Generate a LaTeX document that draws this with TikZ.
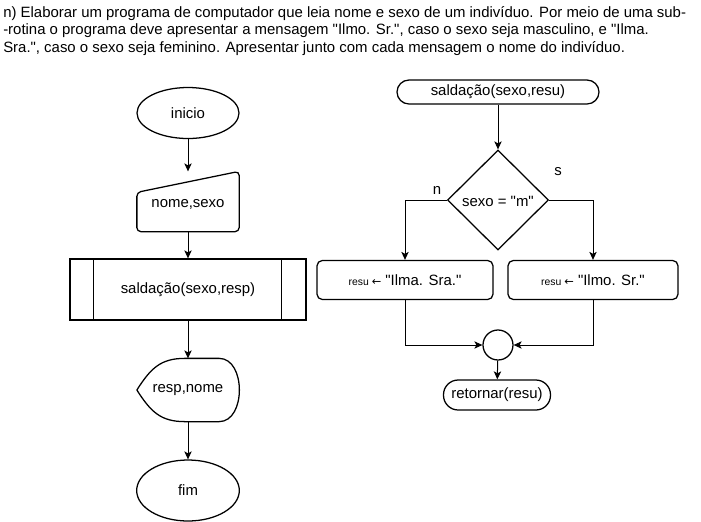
\documentclass[tikz,border=0pt]{standalone}
\usepackage{fontspec}
\setmainfont[Ligatures=TeXOff]{Liberation Sans}
\newfontfamily\symfont{DejaVu Sans}
\usetikzlibrary{calc}
\usetikzlibrary{arrows.meta}
\usetikzlibrary{shapes.geometric}
\tikzstyle{fbox}=[line width=0.95pt,font=\fontsize{11.2}{13}\selectfont,inner sep=0pt]
\tikzstyle{flow}=[line width=0.75pt,-{Stealth[length=6pt,width=5.5pt,inset=1.5pt]}]
\tikzstyle{stepbox}=[fbox,draw,rectangle,rounded corners=4pt,minimum height=29.25pt]
\newcommand{\atrib}[1]{{\fontsize{7.8}{8}\selectfont resu {\symfont\fontsize{8.5}{8}\selectfont ←}} "#1"}

\begin{document}
\begin{tikzpicture}[x=0.75pt,y=-0.75pt]
  \useasboundingbox (0,0) rectangle (701,522);
  % enunciado
  \node[anchor=north west,align=left,inner sep=0pt,font=\fontsize{11.2}{13.1}\selectfont] (txt) at (3,6)
    {n) Elaborar um programa de computador que leia nome e sexo de um indivíduo. Por meio de uma sub-\\
     -rotina o programa deve apresentar a mensagem "Ilmo. Sr.", caso o sexo seja masculino, e "Ilma.\\
     Sra.", caso o sexo seja feminino. Apresentar junto com cada mensagem o nome do indivíduo.};
  % programa principal
  \node[fbox,draw,ellipse,minimum width=76.5pt,minimum height=38.25pt] (ini) at (188,113) {inicio};
  \node[fbox,minimum width=75.75pt,minimum height=44.25pt] (ns) at (188,201.5) {};
  \draw[fbox,rounded corners=3pt] (ns.south west) -- ($(ns.north west)+(0,21)$) -- (ns.north east)
    -- (ns.south east) -- cycle;
  \node[fbox] at (188,204) {nome,sexo};
  \node[fbox,draw,rectangle,minimum width=177pt,minimum height=45.75pt] (sp) at (188,289.5) {saldação(sexo,resp)};
  \draw[fbox] ($(sp.north west)+(24,0)$) -- ($(sp.south west)+(24,0)$);
  \draw[fbox] ($(sp.north east)+(-25,0)$) -- ($(sp.south east)+(-25,0)$);
  \node[fbox,minimum width=75.75pt,minimum height=46.5pt] (rn) at (188,390) {resp,nome};
  \draw[fbox] (rn.west) .. controls +(14,-22) and +(-24,0) .. ($(rn.north west)+(48,0)$)
    -- ($(rn.north east)+(-20,0)$) .. controls +(27,0) and +(27,0) .. ($(rn.south east)+(-20,0)$)
    -- ($(rn.south west)+(48,0)$) .. controls +(-24,0) and +(14,22) .. (rn.west);
  \node[fbox,draw,ellipse,minimum width=77pt,minimum height=45.75pt] (fim) at (188,490.5) {fim};
  \draw[flow] (ini) -- (ns.north);
  \draw[flow] (ns) -- (sp);
  \draw[flow] (sp) -- (rn.north);
  \draw[flow] (rn.south) -- (fim);
  % sub-rotina
  \node[fbox,draw,rectangle,rounded corners=9pt,minimum width=151.5pt,minimum height=18pt] (sr) at (498,92) {saldação(sexo,resu)};
  \node[fbox,draw,diamond,minimum width=75.75pt,minimum height=75pt] (dec) at (498,200) {};
  \node[fbox] at (498,201) {sexo = "m"};
  \node[stepbox,minimum width=132pt] (bl) at (405,280) {\atrib{Ilma. Sra.}};
  \node[stepbox,minimum width=127.5pt] (br) at (593,280) {\atrib{Ilmo. Sr.}};
  \node[fbox,draw,circle,minimum size=22.5pt] (jn) at (498,345) {};
  \node[fbox,draw,rectangle,rounded corners=11pt,minimum width=80.25pt,minimum height=22.5pt] (ret) at (497,395) {retornar(resu)};
  \node[fbox] (ln) at (437,190) {n};
  \node[fbox] (ls) at (558,172) {s};
  \draw[flow] (sr) -- (dec);
  \draw[flow] (dec.west) -| (bl.north);
  \draw[flow] (dec.east) -| (br.north);
  \draw[flow] (bl.south) |- (jn.west);
  \draw[flow] (br.south) |- (jn.east);
  \draw[flow] (jn) -- (ret);
\end{tikzpicture}
\end{document}
